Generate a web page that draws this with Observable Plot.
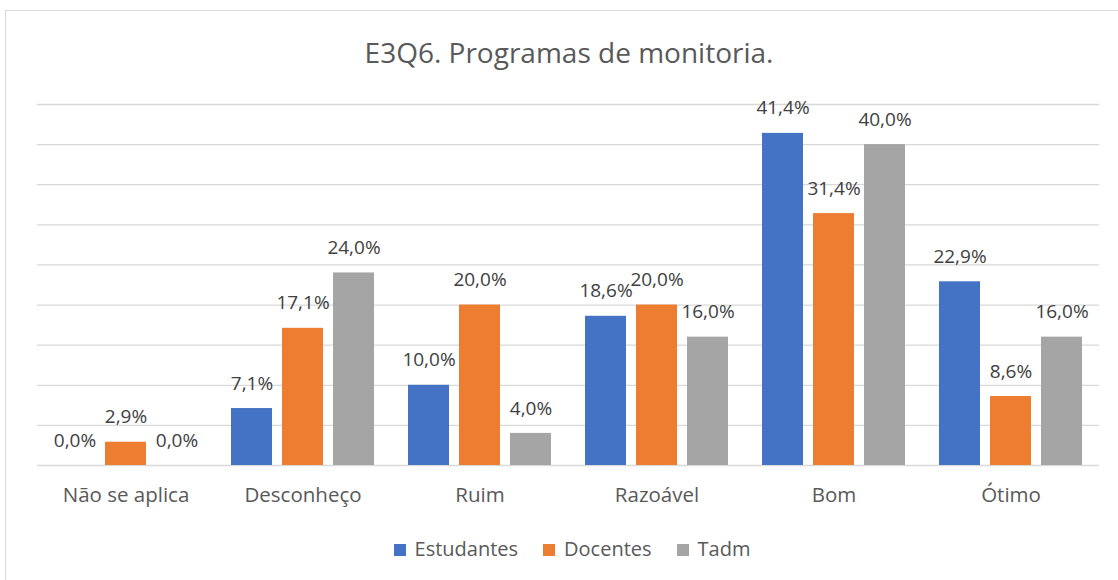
<!DOCTYPE html>
<html>
<head>
<meta charset="utf-8">
<script src="https://cdn.jsdelivr.net/npm/d3@7"></script>
<script src="https://cdn.jsdelivr.net/npm/@observablehq/plot@0.6"></script>
<style>
  html, body { margin: 0; padding: 0; background: #fff; }
  body { width: 1118px; height: 580px; position: relative; overflow: hidden; font-family: "Open Sans", sans-serif; }
  #frame { position: absolute; left: 5px; top: 10px; width: 1120px; height: 600px; border: 1.5px solid #d9d9d9; box-sizing: border-box; }
  #title { position: absolute; left: 10px; width: 1118px; top: 38px; text-align: center; font-size: 28px; color: #595959; line-height: 1; white-space: nowrap; }
  #chart { position: absolute; left: 0; top: 80px; }
  #legend { position: absolute; left: 13px; width: 1118px; top: 537px; display: flex; justify-content: center; gap: 25px; font-size: 20px; color: #595959; line-height: 24px; }
  #legend span.sw { display: inline-block; width: 12px; height: 12px; margin-right: 9px; vertical-align: 0px; }
</style>
</head>
<body>
<div id="frame"></div>
<div id="title">E3Q6. Programas de monitoria.</div>
<div id="chart"></div>
<div id="legend"></div>
<script>
const categories = ["Não se aplica", "Desconheço", "Ruim", "Razoável", "Bom", "Ótimo"];
const series = ["Estudantes", "Docentes", "Tadm"];
const estudantes = [0.0, 7.1, 10.0, 18.6, 41.4, 22.9];
const docentes = [2.9, 17.1, 20.0, 20.0, 31.4, 8.6];
const tadm = [0.0, 24.0, 4.0, 16.0, 40.0, 16.0];
const colors = ["#4472C4", "#ED7D31", "#A5A5A5"];
const gridTicks = [0, 5, 10, 15, 20, 25, 30, 35, 40, 45];

const seriesValues = [estudantes, docentes, tadm];
const data = categories.flatMap((c, i) => series.map((s, j) => ({category: c, series: s, value: seriesValues[j][i]})));
const fmt = v => v.toFixed(1).replace(".", ",") + "%";

const chart = Plot.plot({
  width: 1118,
  height: 430,
  marginTop: 24,
  marginBottom: 45,
  marginLeft: 35,
  marginRight: 17,
  style: {fontFamily: "'Open Sans', sans-serif", background: "transparent", overflow: "visible"},
  fx: {domain: categories, padding: 0, label: null},
  x: {domain: series, axis: null, paddingInner: 0.192, paddingOuter: 0.305},
  y: {domain: [0, 45], axis: null},
  color: {domain: series, range: colors},
  marks: [
    Plot.gridY(gridTicks, {stroke: "#d9d9d9", strokeOpacity: 1, strokeWidth: 1.3}),
    Plot.barY(data, {fx: "category", x: "series", y: "value", fill: "series"}),
    Plot.text(data, {fx: "category", x: "series", y: "value", text: d => fmt(d.value), dy: -25, fontSize: 19, fill: "#404040"}),
    Plot.axisFx({anchor: "bottom", tickSize: 0, tickPadding: 22, fontSize: 20.5, fill: "#595959", label: null})
  ]
});
document.getElementById("chart").appendChild(chart);

const legend = document.getElementById("legend");
series.forEach((s, i) => {
  const item = document.createElement("div");
  const sw = document.createElement("span");
  sw.className = "sw";
  sw.style.background = colors[i];
  item.appendChild(sw);
  item.appendChild(document.createTextNode(s));
  legend.appendChild(item);
});
</script>
</body>
</html>
